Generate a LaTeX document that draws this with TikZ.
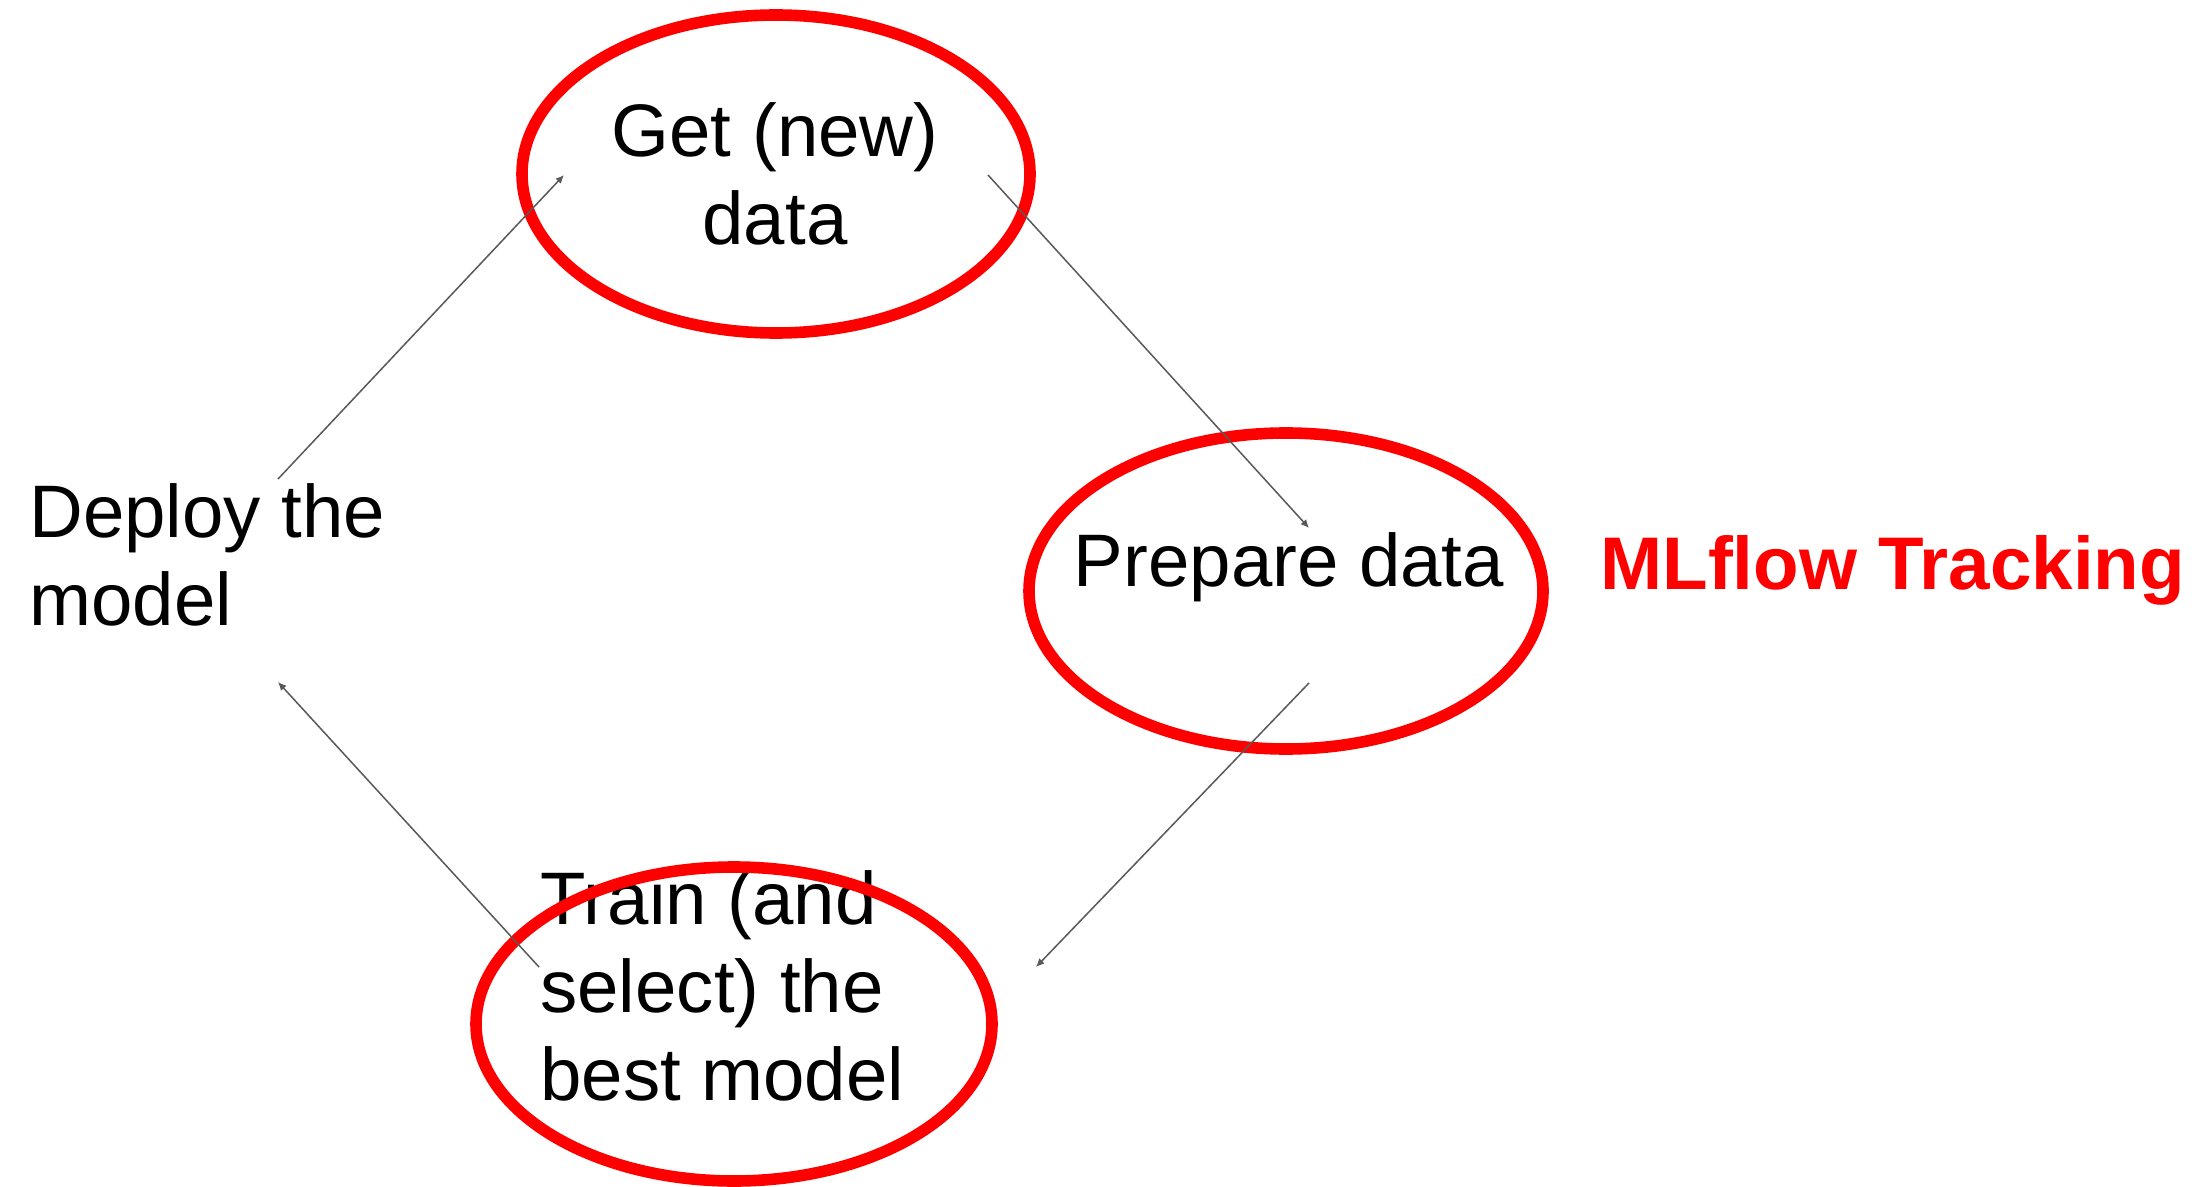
\documentclass[tikz,border=0pt]{standalone}
\usepackage{fontspec}
\setmainfont{Liberation Sans}
\usetikzlibrary{arrows.meta}
\definecolor{linkgray}{HTML}{595959}
\definecolor{markred}{HTML}{FF0000}
\begin{document}
\begin{tikzpicture}[x=0.5pt,y=-0.5pt,
  stage/.style={inner sep=0pt, text=black, font=\fontsize{37.2pt}{44pt}\selectfont},
  banner/.style={inner sep=0pt, text=markred, font=\fontsize{37.3pt}{44pt}\selectfont\bfseries},
  ring/.style={draw=markred, line width=5.8pt},
  flow/.style={draw=linkgray, line width=0.75pt, -{Latex[length=4.2pt,width=3.8pt]}},
]
% page
\fill[white] (0,0) rectangle (2206,1187);
\useasboundingbox (0,0) rectangle (2206,1187);

% stage labels (multi-line nodes sit on the baseline of their last line)
\node[stage, align=center, anchor=base] (get) at (775,245) {Get (new)\\data};
\node[stage, anchor=base] (prep) at (1289,586) {Prepare data};
\node[stage, align=left, anchor=base west] (train) at (540,1100) {Train (and\\select) the\\best model};
\node[stage, align=left, anchor=base west] (deploy) at (29,625) {Deploy the\\model};
\node[banner, anchor=base west] (mlflow) at (1600,589) {MLflow Tracking};

% highlight rings
\draw[ring] (776,174) ellipse [x radius=127pt, y radius=79.5pt];
\draw[ring] (1286,591) ellipse [x radius=128.5pt, y radius=79pt];
\draw[ring] (734,1024) ellipse [x radius=129pt, y radius=78.5pt];

% connector ends
\coordinate (get-w) at (564,175);
\coordinate (get-e) at (988,175);
\coordinate (prep-n) at (1309,528);
\coordinate (prep-s) at (1309,683);
\coordinate (train-e) at (1036,967);
\coordinate (train-w) at (539,967);
\coordinate (deploy-ne) at (278,479);
\coordinate (deploy-se) at (278,682);

% cycle
\draw[flow] (deploy-ne) -- (get-w);
\draw[flow] (get-e) -- (prep-n);
\draw[flow] (prep-s) -- (train-e);
\draw[flow] (train-w) -- (deploy-se);
\end{tikzpicture}
\end{document}
